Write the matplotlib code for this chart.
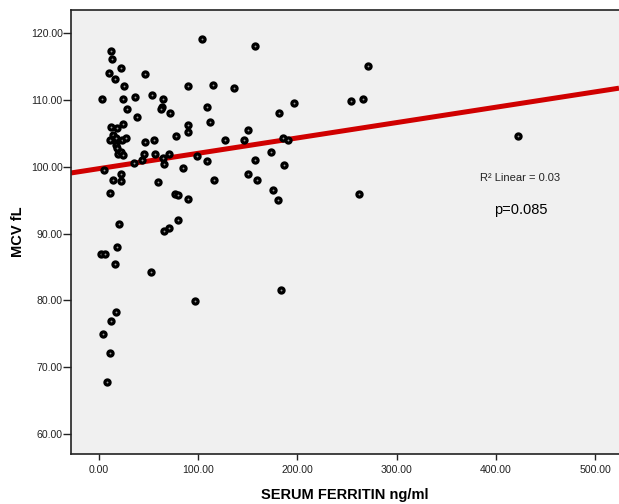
import numpy as np
import matplotlib
matplotlib.use("Agg")
from matplotlib import pyplot as plt

# serum ferritin (ng/ml) and MCV (fL)
ferritin = [103.5, 12.1, 12.8, 22.2, 9.8, 16.1, 46.4, 24.9, 89.7, 114.9,
            2.7, 23.9, 36.3, 53.4, 64.8, 28.2, 63.2, 62.5, 71.9, 108.9,
            38.3, 111.6, 12.4, 17.8, 24.2, 89.4, 89.4, 14.4, 11.1, 17.1,
            23.2, 27.2, 77.9, 127.3, 17.1, 17.8, 46.4, 55.1, 18.9, 21.9,
            23.9, 45.7, 56.8, 70.6, 64.8, 43.3, 35.3, 65.2, 98.5, 108.6,
            84.4, 5.3, 22.2, 14.1, 21.9, 59.8, 115.6, 11.4, 76.6, 79.9,
            89.4, 20.2, 79.6, 70.3, 65.5, 18.1, 2.0, 6.4, 16.4, 52.4,
            96.5, 17.4, 12.4, 4.3, 11.4, 8.1, 157.3, 271.5, 135.8, 196.9,
            181.5, 254.3, 266.1, 150.2, 146.5, 185.5, 190.8, 173.1, 157.3, 186.8,
            149.9, 159.3, 175.1, 261.8, 180.1, 183.5, 422.7]
mcv = [119.1, 117.3, 116.2, 114.8, 114.0, 113.2, 113.9, 112.1, 112.1, 112.2,
       110.1, 110.1, 110.4, 110.7, 110.1, 108.6, 109.0, 108.6, 108.0, 109.0,
       107.5, 106.7, 106.0, 105.8, 106.4, 106.3, 105.3, 104.8, 104.0, 104.4,
       104.0, 104.3, 104.7, 104.0, 103.3, 102.9, 103.7, 104.0, 102.0, 102.2,
       101.8, 102.0, 102.0, 102.0, 101.4, 101.1, 100.6, 100.4, 101.6, 100.9,
       99.8, 99.6, 98.9, 98.0, 97.9, 97.8, 98.0, 96.1, 96.0, 95.8,
       95.2, 91.4, 92.1, 90.8, 90.4, 88.0, 86.9, 86.9, 85.5, 84.3,
       79.9, 78.2, 76.9, 74.9, 72.2, 67.8, 118.1, 115.1, 111.8, 109.5,
       108.0, 109.9, 110.1, 105.5, 104.0, 104.3, 104.0, 102.3, 101.0, 100.3,
       99.0, 98.0, 96.5, 95.9, 95.1, 81.6, 104.6]

# fit line (as printed by the stats package)
fit_intercept = 99.74
fit_slope = 0.023
r2_text = "R² Linear = 0.03"
p_text = "p=0.085"

xticks = [0, 100, 200, 300, 400, 500]
yticks = [60, 70, 80, 90, 100, 110, 120]

plt.rcParams["font.family"] = ["Liberation Sans", "DejaVu Sans"]

fig = plt.figure(figsize=(6.19, 5.04), dpi=100)
ax = fig.add_axes([71 / 619, 50 / 504, 1 - 71 / 619, 444 / 504])
ax.set_facecolor("#f0f0f0")

xlim = (-28.2, 524)
ylim = (57.0, 123.5)
ax.set_xlim(*xlim)
ax.set_ylim(*ylim)

# regression line across the whole x range
xl = np.array(xlim)
ax.plot(xl, fit_intercept + fit_slope * xl, color="#d00000", lw=3.6,
        solid_capstyle="butt", zorder=2)

ax.plot(ferritin, mcv, ls="none", marker="o", ms=3.7, mew=2.3,
        mec="black", mfc="#999999", zorder=3)

ax.text(424, 98.3, r2_text, fontsize=8, ha="center", va="center", color="#222222")
ax.text(425, 93.6, p_text, fontsize=10.5, ha="center", va="center")

ax.set_xticks(xticks)
ax.set_yticks(yticks)
ax.set_xticklabels(["%.2f" % t for t in xticks])
ax.set_yticklabels(["%.2f" % t for t in yticks])
ax.tick_params(axis="x", length=4, width=1, pad=4, labelsize=7.6, colors="#222222")
ax.tick_params(axis="y", length=5.5, width=1, pad=0.5, labelsize=7.6, colors="#222222")
ax.tick_params(top=False, right=False)

for s in ["left", "bottom", "top"]:
    ax.spines[s].set_linewidth(1.2)
    ax.spines[s].set_color("#222222")
ax.spines["right"].set_visible(False)

ax.set_xlabel("SERUM FERRITIN ng/ml", fontsize=10.5, fontweight="bold", labelpad=9)
ax.set_ylabel("MCV fL", fontsize=10.5, fontweight="bold", labelpad=4)

fig.savefig("out.png", dpi=100)
